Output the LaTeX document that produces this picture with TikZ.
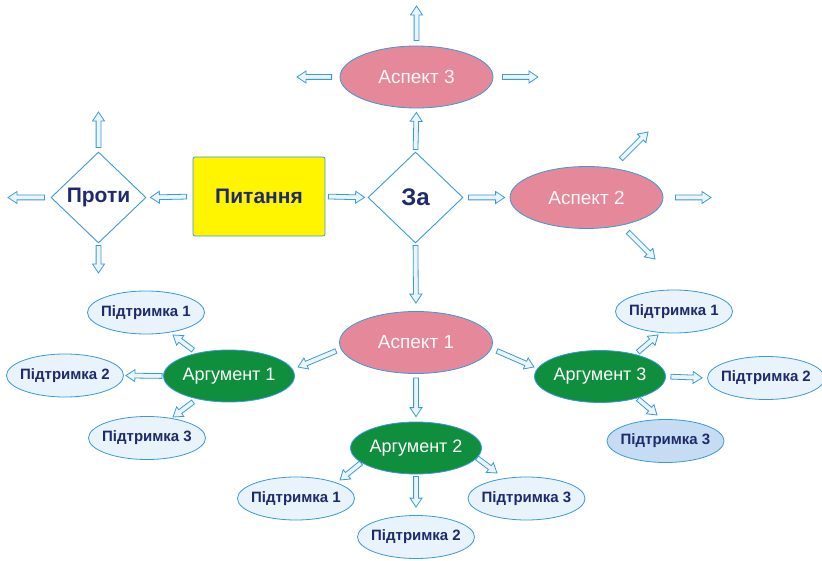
\documentclass[tikz,border=0pt]{standalone}
\usepackage{fontspec}
\setmainfont{Liberation Sans}
\usetikzlibrary{calc,shapes.geometric}
\definecolor{bord}{HTML}{3A9AD9}
\definecolor{afill}{HTML}{EAF5FC}
\definecolor{navy}{HTML}{1F2A6E}
\definecolor{pinkf}{HTML}{E5889A}
\definecolor{greenf}{HTML}{0F8E3D}
\definecolor{suppf}{HTML}{E8F3FC}
\definecolor{suppd}{HTML}{C6DCF2}
\definecolor{yell}{HTML}{FFF500}
\tikzset{
  barrow/.style={draw=bord, fill=afill, line width=0.8pt, line join=miter},
  qbox/.style={draw=bord, fill=yell, line width=0.8pt, rounded corners=2pt, minimum width=132pt, minimum height=79pt, inner sep=0pt, font=\bfseries\fontsize{21}{24}\selectfont, text=navy},
  dia/.style={diamond, draw=bord, fill=white, line width=0.9pt, minimum width=95pt, minimum height=91pt, inner sep=0pt, font=\bfseries\fontsize{21}{24}\selectfont, text=navy},
  aspect/.style={ellipse, draw=bord, fill=pinkf, line width=0.8pt, minimum width=153pt, minimum height=62pt, inner ysep=0pt, inner xsep=-20pt, font=\fontsize{19}{22}\selectfont, text=white!95!pinkf},
  argum/.style={ellipse, draw=bord, fill=greenf, line width=0.8pt, minimum width=131pt, minimum height=52pt, inner ysep=0pt, inner xsep=-20pt, font=\fontsize{18}{21}\selectfont, text=white},
  supp/.style={ellipse, draw=bord, fill=suppf, line width=0.8pt, minimum width=117pt, minimum height=43pt, inner ysep=0pt, inner xsep=-20pt, font=\bfseries\fontsize{15}{18}\selectfont, text=navy},
}
\newcommand{\barr}[4]{%
  \draw[barrow] let \p1=(#1), \p2=(#2), \n1={atan2(\y2-\y1,\x2-\x1)}, \n2={veclen(\x2-\x1,\y2-\y1)} in
    [shift={(\p1)}, rotate=\n1]
    ({#3*1pt},-2.4pt) -- ({\n2*1pt-#4*1pt-9pt},-2.4pt) -- ({\n2*1pt-#4*1pt-9pt},-6pt)
    -- ({\n2*1pt-#4*1pt},0pt) -- ({\n2*1pt-#4*1pt-9pt},6pt) -- ({\n2*1pt-#4*1pt-9pt},2.4pt)
    -- ({#3*1pt},2.4pt) -- cycle;}
\begin{document}
\begin{tikzpicture}[x=1pt,y=-1pt]
\useasboundingbox (0,0) rectangle (822,561);
% main nodes
\node[qbox] (pyt) at (259,196.5) {Питання};
\node[dia] (proty) at (98.5,197.5) {Проти};
\node[dia] (za) at (415.5,197.5) {\fontsize{24}{27}\selectfont За};
\node[aspect] (asp3) at (416.5,77) {Аспект 3};
\node[aspect] (asp2) at (586.5,197.5) {Аспект 2};
\node[aspect] (asp1) at (416,342.5) {Аспект 1};
\node[argum] (arg1) at (229,376) {Аргумент 1};
\node[argum] (arg3) at (600,376.5) {Аргумент 3};
\node[argum] (arg2) at (416,448) {Аргумент 2};
% supports
\node[supp] (s11) at (146,312.5) {Підтримка 1};
\node[supp] (s12) at (65,375.5) {Підтримка 2};
\node[supp] (s13) at (147,438) {Підтримка 3};
\node[supp] (s31) at (674,311.5) {Підтримка 1};
\node[supp] (s32) at (766,378) {Підтримка 2};
\node[supp, fill=suppd] (s33) at (665.5,441) {Підтримка 3};
\node[supp] (s21) at (296,498.5) {Підтримка 1};
\node[supp] (s22) at (416,537) {Підтримка 2};
\node[supp] (s23) at (526.5,498.5) {Підтримка 3};
% free coordinates
\coordinate (pl) at (8,197.5);
\coordinate (pu) at (98.5,112);
\coordinate (pd) at (98.5,273);
\coordinate (a3u) at (416.5,6);
\coordinate (a3l) at (297,77);
\coordinate (a3r) at (538,77);
\coordinate (a2ua) at (621,159);
\coordinate (a2ub) at (648,132);
\coordinate (a2r) at (711,197.5);
\coordinate (a2da) at (628,232);
\coordinate (a2db) at (655,259);
\coordinate (a1la) at (336,351);
\coordinate (a1lb) at (298,367);
\coordinate (a1ra) at (497,351);
\coordinate (a1rb) at (534,367);
\coordinate (g1a) at (193,350);
\coordinate (g1b) at (173,335);
\coordinate (g3a) at (193,402);
\coordinate (g3b) at (173,417);
\coordinate (h1a) at (638,352);
\coordinate (h1b) at (658,335);
\coordinate (h3a) at (638,399);
\coordinate (h3b) at (657,415);
\coordinate (k1a) at (361,463);
\coordinate (k1b) at (340,480);
\coordinate (k3a) at (477,458);
\coordinate (k3b) at (497,473);
% arrows
\barr{pyt.west}{proty.east}{6}{4}
\barr{proty.west}{pl}{6}{0}
\barr{proty.north}{pu}{4}{0}
\barr{proty.south}{pd}{2}{0}
\barr{pyt.east}{za.west}{3}{3}
\barr{za.east}{asp2.west}{5}{5}
\barr{za.north}{asp3.south}{2}{4}
\barr{asp3.north}{a3u}{5}{0}
\barr{asp3.west}{a3l}{8}{0}
\barr{asp3.east}{a3r}{9}{0}
\barr{a2ua}{a2ub}{0}{0}
\barr{asp2.east}{a2r}{12}{0}
\barr{a2da}{a2db}{0}{0}
\barr{za.south}{asp1.north}{2}{8}
\barr{a1la}{a1lb}{0}{0}
\barr{a1ra}{a1rb}{0}{0}
\barr{asp1.south}{arg2.north}{4}{5}
\barr{g1a}{g1b}{0}{0}
\barr{arg1.west}{s12.east}{1}{2}
\barr{g3a}{g3b}{0}{0}
\barr{h1a}{h1b}{0}{0}
\barr{arg3.east}{s32.west}{5}{5}
\barr{h3a}{h3b}{0}{0}
\barr{k1a}{k1b}{0}{0}
\barr{arg2.south}{s22.north}{2}{8}
\barr{k3a}{k3b}{0}{0}
\end{tikzpicture}
\end{document}
